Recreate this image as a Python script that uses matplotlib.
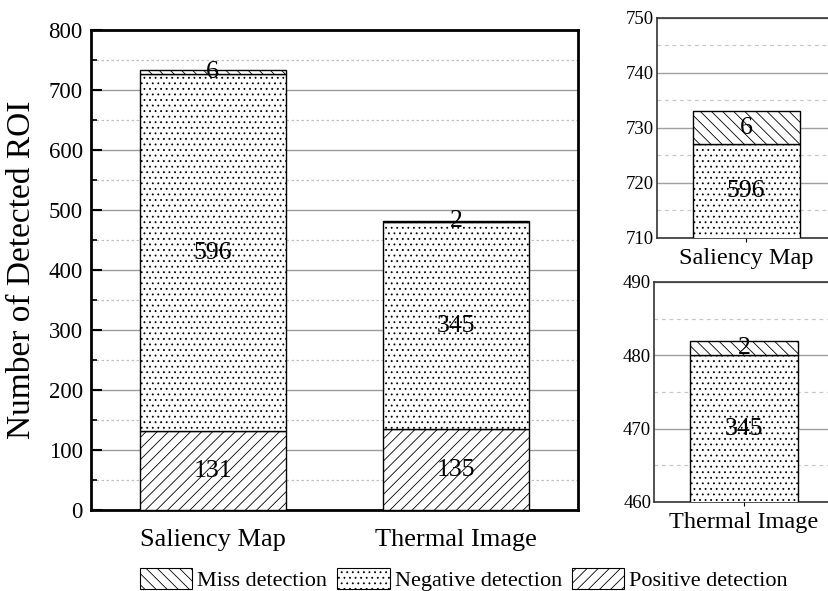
import matplotlib
matplotlib.use("Agg")
import matplotlib.pyplot as plt
from matplotlib.patches import Patch
from matplotlib.ticker import MultipleLocator
import numpy as np

plt.rcParams['font.family'] = ['Liberation Serif', 'DejaVu Serif']
plt.rcParams['hatch.linewidth'] = 0.6

categories = ["Saliency Map", "Thermal Image"]
positive = [131, 135]
negative = [596, 345]
miss = [6, 2]

series = [
    ("Positive detection", positive, "///"),
    ("Negative detection", negative, "..."),
    ("Miss detection", miss, "\\\\\\"),
]

fig = plt.figure(figsize=(8.29, 5.91), dpi=100)


def draw_stack(ax, idx, xs, ylim=None, label_size=18):
    bottom = np.zeros(len(idx))
    for name, vals, hatch in series:
        v = np.array([vals[i] for i in idx], dtype=float)
        ax.bar(xs, v, width=0.6, bottom=bottom, color="white", edgecolor="black",
               linewidth=1.0, hatch=hatch, zorder=3)
        for x, b, h in zip(xs, bottom, v):
            lo, hi = b, b + h
            if ylim is not None:
                lo, hi = max(lo, ylim[0]), min(hi, ylim[1])
                if hi <= lo:
                    continue
            ax.text(x, (lo + hi) / 2, f"{int(h)}", ha="center", va="center",
                    fontsize=label_size, zorder=5)
        bottom = bottom + v


# main chart
ax = fig.add_axes([0.1098, 0.137, 0.5875, 0.812])
xs = np.arange(1, len(categories) + 1)
draw_stack(ax, [0, 1], xs, label_size=18.5)
ax.set_xlim(0.5, 2.5)
ax.set_ylim(0, 800)
ax.set_xticks(xs)
ax.set_xticklabels(categories, fontsize=19)
ax.yaxis.set_major_locator(MultipleLocator(100))
ax.yaxis.set_minor_locator(MultipleLocator(50))
ax.tick_params(axis="y", which="major", direction="in", length=8, width=1.5, labelsize=16.5, pad=6)
ax.tick_params(axis="y", which="minor", direction="in", length=4, width=1.2)
ax.tick_params(axis="x", which="major", direction="in", length=8, width=1.5, pad=14)
ax.grid(True, which="major", axis="y", color="#9a9a9a", linewidth=1.0, zorder=0)
ax.grid(True, which="minor", axis="y", color="#c0c0c0", linewidth=0.9, linestyle=(0, (2, 2)), zorder=0)
for s in ax.spines.values():
    s.set_linewidth(2.0)
ax.set_ylabel("Number of Detected ROI", fontsize=24, labelpad=8)

# zoomed insets
insets = [
    (0, [0.7925, 0.5973, 0.215, 0.3723], (710, 750)),
    (1, [0.7889, 0.1506, 0.217, 0.3723], (460, 490)),
]
for i, rect, ylim in insets:
    ai = fig.add_axes(rect)
    draw_stack(ai, [i], [1], ylim=ylim, label_size=18.5)
    ai.set_xlim(0.5, 1.5)
    ai.set_ylim(*ylim)
    ai.set_xticks([1])
    ai.set_xticklabels([categories[i]], fontsize=17.5)
    ai.yaxis.set_major_locator(MultipleLocator(10))
    ai.yaxis.set_minor_locator(MultipleLocator(5))
    ai.tick_params(axis="y", which="both", length=0, labelsize=13.5, pad=2)
    ai.tick_params(axis="x", length=3, width=0.8, pad=4)
    ai.grid(True, which="major", axis="y", color="#a0a0a0", linewidth=1.0, zorder=0)
    ai.grid(True, which="minor", axis="y", color="#c8c8c8", linewidth=0.9, linestyle=(0, (3, 3)), zorder=0)
    for s in ai.spines.values():
        s.set_linewidth(1.2)
        s.set_color("#333333")

handles = [Patch(facecolor="white", edgecolor="black", hatch=h, linewidth=0.8, label=n)
           for n, _, h in series[::-1]]
fig.legend(handles=handles, loc="lower left", bbox_to_anchor=(140 / 829, 0.0),
           ncol=3, frameon=False, fontsize=16, handlelength=2.35, handleheight=1.08,
           handletextpad=0.23, columnspacing=0.45, borderpad=0, borderaxespad=0)

fig.savefig("out.png", dpi=100)
